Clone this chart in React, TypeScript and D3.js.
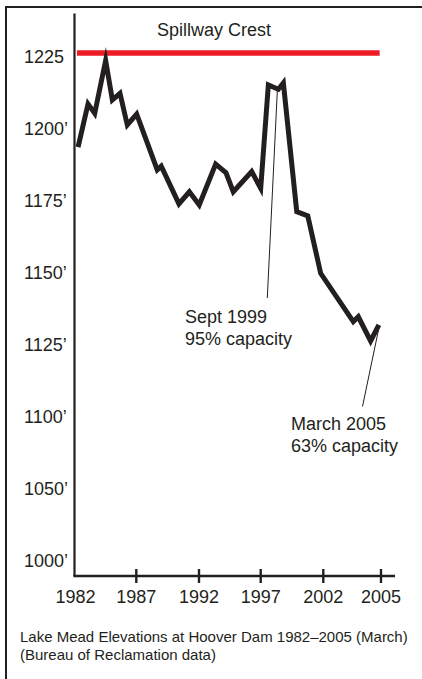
import * as d3 from 'd3';

// Lake Mead elevations (March)
const years = [
  1982.21, 1983.03, 1983.58, 1984.48, 1985.03, 1985.66, 1986.26, 1987.03,
  1988.67, 1988.99, 1990.4, 1991.23, 1992.02, 1993.35, 1994.19, 1994.78,
  1996.27, 1997.0, 1997.61, 1998.41, 1998.81, 1999.88, 2000.76, 2001.79,
  2003.56, 2003.82, 2004.46, 2004.89,
];
const elevations = [
  1193.6, 1208.6, 1205.3, 1223.7, 1210.0, 1212.3, 1201.3, 1205.1,
  1185.7, 1187.0, 1173.9, 1178.1, 1173.5, 1187.7, 1184.7, 1178.1,
  1185.1, 1179.3, 1215.2, 1213.7, 1215.9, 1171.2, 1169.7, 1149.8,
  1133.0, 1134.7, 1126.3, 1131.9,
];

// the printed axes are not evenly spaced, so both scales are piecewise
const xBreaks = [1982, 1987, 1992, 1997, 2002, 2005];
const yBreaks = [1000, 1050, 1100, 1225];

const xTicks = [1982, 1987, 1992, 1997, 2002, 2005];
const xTickLabels = ['1982', '1987', '1992', '1997', '2002', '2005'];
const yTicks = [1225, 1200, 1175, 1150, 1125, 1100, 1050, 1000];
const yTickLabels = ['1225', '1200’', '1175’', '1150’', '1125’', '1100’', '1050’', '1000’'];

const spillwayElevation = 1226.3;
const spillwayYears = [1982.12, 2004.93];

const annotationLabels = [
  ['Sept 1999', '95% capacity'],
  ['March 2005', '63% capacity'],
];
const annotationYears = [1998.33, 2004.9];
const annotationElevations = [1213.4, 1131.1];

const captionLines = [
  'Lake Mead Elevations at Hoover Dam 1982–2005 (March)',
  '(Bureau of Reclamation data)',
];

function App() {
  const width = 422;
  const height = 679;
  const ink = '#231f20';
  const font = '"Liberation Sans", Arial, Helvetica, sans-serif';

  const x = d3.scaleLinear()
    .domain(xBreaks)
    .range([75.5, 136.3, 199, 260.7, 323.3, 381]);
  const y = d3.scaleLinear()
    .domain(yBreaks)
    .range([561, 489, 416.7, 56.7]);

  const axisX = x(1982) - 1;
  const axisY = 576;
  const axisTop = y(1240);
  const axisRight = x(2005.73);

  const points: [number, number][] = years.map((yr, i) => [yr, elevations[i]]);
  const line = d3.line<[number, number]>()
    .x(d => x(d[0]))
    .y(d => y(d[1]));

  // label placement for the two call-outs
  const labelPos = [
    { x: 185, y: 323.3, lineEnd: [267.3, 298] },
    { x: 291, y: 430, lineEnd: [362.5, 406.5] },
  ];

  return (
    <svg
      width={width}
      height={height}
      style={{ position: 'absolute', left: 0, top: 0, background: '#fff' }}
      fontFamily={font}
    >
      {/* frame (top and left edges only) */}
      <path d={`M6,${height} L6,7 L${width},7`} fill="none" stroke={ink} strokeWidth={2} />

      {/* spillway crest */}
      <line
        x1={x(spillwayYears[0])} x2={x(spillwayYears[1])}
        y1={y(spillwayElevation)} y2={y(spillwayElevation)}
        stroke="#ed1c24" strokeWidth={5.5}
      />
      <text x={214} y={36} fontSize={18} textAnchor="middle" fill={ink}>Spillway Crest</text>

      {/* axes */}
      <line x1={axisX} x2={axisX} y1={axisTop} y2={axisY} stroke={ink} strokeWidth={2.2} />
      <line x1={axisX - 1.1} x2={axisRight} y1={axisY} y2={axisY} stroke={ink} strokeWidth={2.6} />
      {xTicks.map((t, i) => (
        <g key={t}>
          {i > 0 && (
            <line x1={x(t)} x2={x(t)} y1={axisY - 7} y2={axisY + 7} stroke={ink} strokeWidth={2.4} />
          )}
          <text x={x(t)} y={603} fontSize={18} textAnchor="middle" fill={ink}>{xTickLabels[i]}</text>
        </g>
      ))}
      {yTicks.map((t, i) => (
        <text key={t} x={24} y={y(t)} dy="0.36em" fontSize={18} fill={ink}>{yTickLabels[i]}</text>
      ))}

      {/* elevation line */}
      <path
        d={line(points) ?? ''}
        fill="none"
        stroke={ink}
        strokeWidth={5}
        strokeLinejoin="miter"
        strokeMiterlimit={10}
        strokeLinecap="butt"
      />

      {/* call-outs */}
      {annotationLabels.map((lines, i) => (
        <g key={lines[0]}>
          <line
            x1={x(annotationYears[i])} y1={y(annotationElevations[i])}
            x2={labelPos[i].lineEnd[0]} y2={labelPos[i].lineEnd[1]}
            stroke={ink} strokeWidth={1}
          />
          {lines.map((s, j) => (
            <text key={s} x={labelPos[i].x} y={labelPos[i].y + j * 21.7} fontSize={18} fill={ink}>{s}</text>
          ))}
        </g>
      ))}

      {/* caption */}
      {captionLines.map((s, i) => (
        <text key={s} x={20} y={641.5 + i * 18.5} fontSize={15} fill={ink}>{s}</text>
      ))}
    </svg>
  );
}

export default App;
